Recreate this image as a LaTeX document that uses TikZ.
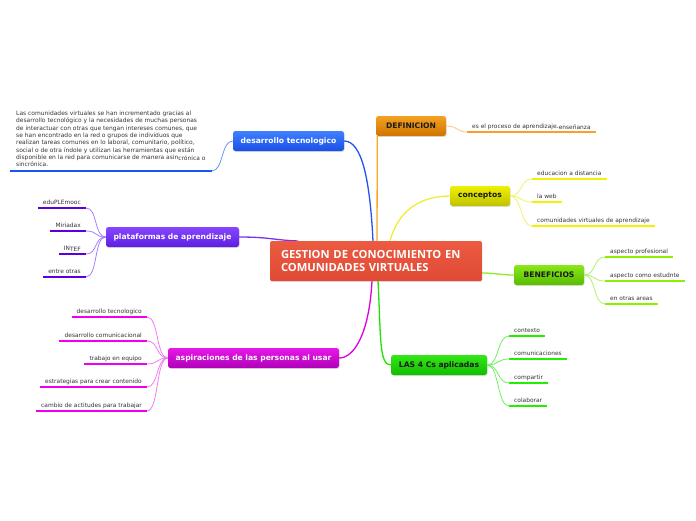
\documentclass[tikz,border=0pt]{standalone}
\usepackage{fontspec}
\setmainfont{DejaVu Sans}
\newfontfamily\titlefont{Open Sans}
\usetikzlibrary{shadows}
\definecolor{leaftext}{HTML}{333333}
\definecolor{darktext}{HTML}{1A1A1A}
\definecolor{blueT}{HTML}{3F80FF}\definecolor{blueB}{HTML}{1A4FE6}
\definecolor{blueL}{HTML}{2255EE}\definecolor{blueUL}{HTML}{1A55F0}\definecolor{blueLk}{HTML}{6A90FF}
\definecolor{oraT}{HTML}{F3A11E}\definecolor{oraB}{HTML}{CF7400}
\definecolor{oraL}{HTML}{F5A623}\definecolor{oraUL}{HTML}{F7A02A}\definecolor{oraLk}{HTML}{F8C878}
\definecolor{yelT}{HTML}{EEF000}\definecolor{yelB}{HTML}{BFC200}
\definecolor{yelL}{HTML}{EEEE33}\definecolor{yelUL}{HTML}{F2F200}\definecolor{yelLk}{HTML}{F2F266}
\definecolor{limT}{HTML}{88E818}\definecolor{limB}{HTML}{58BC00}
\definecolor{limL}{HTML}{8CEE22}\definecolor{limUL}{HTML}{8CF000}\definecolor{limLk}{HTML}{B0F070}
\definecolor{grnT}{HTML}{33E815}\definecolor{grnB}{HTML}{10BC00}
\definecolor{grnL}{HTML}{22E000}\definecolor{grnUL}{HTML}{22EE00}\definecolor{grnLk}{HTML}{70F060}
\definecolor{magT}{HTML}{E818E8}\definecolor{magB}{HTML}{AE00B8}
\definecolor{magL}{HTML}{DD00DD}\definecolor{magUL}{HTML}{EE00EE}\definecolor{magLk}{HTML}{F27AF2}
\definecolor{purT}{HTML}{8646FF}\definecolor{purB}{HTML}{5E1EE0}
\definecolor{purL}{HTML}{7733EE}\definecolor{purUL}{HTML}{5A00E0}\definecolor{purLk}{HTML}{A580FF}
\definecolor{redT}{HTML}{EC5A42}\definecolor{redB}{HTML}{E04A34}
\begin{document}
\begin{tikzpicture}[x=1pt,y=-1pt,
  box/.style={rounded corners=2.5pt, minimum height=20pt, inner sep=0pt,
    font=\fontsize{7.6}{9}\selectfont\bfseries,
    drop shadow={opacity=0.25,shadow xshift=0.6pt,shadow yshift=-0.9pt}},
  central/.style={rounded corners=1.5pt, minimum height=40pt, text width=190pt,
    inner xsep=11pt, inner ysep=0pt, align=left, text=white,
    top color=redT, bottom color=redB,
    font=\titlefont\fontsize{11.2}{12.5}\selectfont\bfseries,
    drop shadow={opacity=0.2,shadow xshift=0.6pt,shadow yshift=-0.9pt}},
  leafR/.style={anchor=south west, inner xsep=5pt, inner ysep=3.8pt, text depth=0pt,
    font=\fontsize{5.9}{7}\selectfont, text=leaftext},
  leafL/.style={leafR, anchor=south east},
  ul/.style={line width=2.9pt, draw=#1},
  lk/.style={line width=0.8pt, draw=#1},
  br/.style={line width=1.3pt, draw=#1},
]
\path[use as bounding box] (0,0) rectangle (696,520);

\coordinate (cpur) at (298,241);
\coordinate (cblu) at (373,241);
\coordinate (cora) at (377,241);
\coordinate (cyel) at (390,241);
\coordinate (clim) at (482,273);
\coordinate (cgrn) at (378,281);
\coordinate (cmag) at (372,281);

% boxes
\node[box, minimum width=111pt, top color=blueT, bottom color=blueB, text=white] (dt) at (288.5,141) {desarrollo tecnologico};
\node[box, minimum width=70pt, top color=oraT, bottom color=oraB, text=darktext] (def) at (411,126) {DEFINICION};
\node[box, minimum width=60pt, top color=yelT, bottom color=yelB, text=darktext] (con) at (480,196) {conceptos};
\node[box, minimum width=70pt, top color=limT, bottom color=limB, text=darktext] (ben) at (549,275) {BENEFICIOS};
\node[box, minimum width=96pt, top color=grnT, bottom color=grnB, text=darktext] (las) at (439,365) {LAS 4 Cs aplicadas};
\node[box, minimum width=171pt, top color=magT, bottom color=magB, text=white] (asp) at (253.5,358) {aspiraciones de las personas al usar};
\node[box, minimum width=133pt, top color=purT, bottom color=purB, text=white] (pla) at (172.5,237) {plataformas de aprendizaje};

\draw[br=purL] (pla.east) .. controls +(30,0) and +(-25,-1) .. (cpur);
\draw[br=blueL] (dt.east) .. controls +(18,0) and +(-3,-60) .. (cblu);
\draw[br=oraL] ([xshift=1.5pt]def.south west) -- (cora);
\draw[br=yelL] (cyel) .. controls +(8,-30) and +(-30,0) .. (con.west);
\draw[br=limL] (clim) .. controls +(12,0) and +(-12,0) .. (ben.west);
\draw[br=grnL] (cgrn) .. controls +(3,55) and +(-12,0) .. (las.west);
\draw[br=magL] (cmag) .. controls +(-3,55) and +(14,0) .. (asp.east);

% central
\node[central] (c) at (376,261) {GESTION DE CONOCIMIENTO EN\\COMUNIDADES VIRTUALES};

% paragraph leaf
\node[anchor=south west, inner xsep=6pt, inner ysep=4pt, align=left,
  font=\fontsize{5.95}{7.3}\selectfont, text=leaftext] (para) at (10,171)
  {Las comunidades virtuales se han incrementado gracias al\\
   desarrollo tecnológico y la necesidades de muchas personas\\
   de interactuar con otras que tengan intereses comunes, que\\
   se han encontrado en la red o grupos de individuos que\\
   realizan tareas comunes en lo laboral, comunitario, político,\\
   social o de otra índole y utilizan las herramientas que están\\
   disponible en la red para comunicarse de manera asin\raisebox{-1.2pt}{crónica o}\\
   sincrónica.};
\draw[ul=blueUL] (para.south west) -- (para.south east);
\draw[lk=blueLk] (para.south east) .. controls +(12,0) and +(-12,0) .. (dt.west);

% DEFINICION leaf
\node[leafR] (def1) at (467,132) {es el proceso de aprendizaje\raisebox{-1pt}{-enseñanza}};
\draw[ul=oraUL] (def1.south west) -- (def1.south east);
\draw[lk=oraLk] (def.east) .. controls +(12,0) and +(-10,0) .. (def1.south west);

% conceptos leaves
\node[leafR] (con1) at (532,179) {educacion a distancia};
\node[leafR] (con2) at (532,202) {la web};
\node[leafR] (con3) at (532,226) {comunidades virtuales de aprendizaje};
\foreach \n in {con1,con2,con3}{
  \draw[ul=yelUL] (\n.south west) -- (\n.south east);
  \draw[lk=yelLk] (con.east) .. controls +(12,0) and +(-12,0) .. (\n.south west);
}

% BENEFICIOS leaves
\node[leafR] (ben1) at (605,257) {aspecto profesional};
\node[leafR] (ben2) at (605,281) {aspecto como estudnte};
\node[leafR] (ben3) at (605,304) {en otras areas};
\foreach \n in {ben1,ben2,ben3}{
  \draw[ul=limUL] (\n.south west) -- (\n.south east);
  \draw[lk=limLk] (ben.east) .. controls +(12,0) and +(-12,0) .. (\n.south west);
}

% LAS 4 Cs leaves
\node[leafR] (las1) at (509,336) {contexto};
\node[leafR] (las2) at (509,359) {comunicaciones};
\node[leafR] (las3) at (509,383) {compartir};
\node[leafR] (las4) at (509,406) {colaborar};
\foreach \n in {las1,las2,las3,las4}{
  \draw[ul=grnUL] (\n.south west) -- (\n.south east);
  \draw[lk=grnLk] (las.east) .. controls +(12,0) and +(-12,0) .. (\n.south west);
}

% plataformas leaves
\node[leafL] (pla1) at (86,208) {eduPLEmooc};
\node[leafL] (pla2) at (86,231) {Miriadax};
\node[leafL] (pla3) at (86,254) {IN\raisebox{-1pt}{TEF}};
\node[leafL] (pla4) at (86,277) {entre otras};
\foreach \n in {pla1,pla2,pla3,pla4}{
  \draw[ul=purUL] (\n.south west) -- (\n.south east);
  \draw[lk=purLk] (pla.west) .. controls +(-12,0) and +(12,0) .. (\n.south east);
}

% aspiraciones leaves
\node[leafL] (asp1) at (147,317) {desarrollo tecnologico};
\node[leafL] (asp2) at (147,341) {desarrollo comunicacional};
\node[leafL] (asp3) at (147,364) {trabajo en equipo};
\node[leafL] (asp4) at (147,387) {estrategias para crear contenido};
\node[leafL] (asp5) at (147,411) {cambio de actitudes para trabajar};
\foreach \n in {asp1,asp2,asp3,asp4,asp5}{
  \draw[ul=magUL] (\n.south west) -- (\n.south east);
  \draw[lk=magLk] (asp.west) .. controls +(-12,0) and +(12,0) .. (\n.south east);
}
\end{tikzpicture}
\end{document}
